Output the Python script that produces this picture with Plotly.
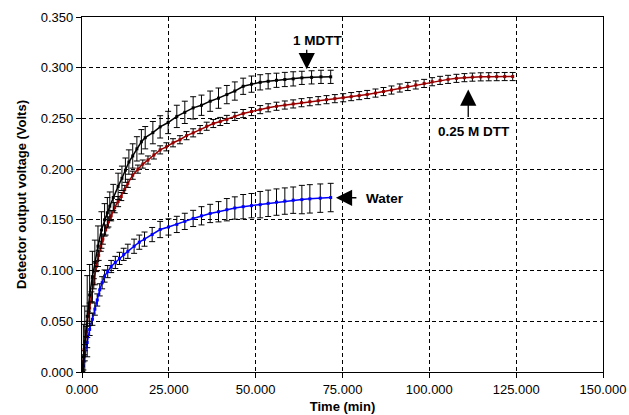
import plotly.graph_objects as go

# ---- data ----
t_mdtt = [0, 0.4, 0.8, 1.5, 2.2, 3.0, 3.7, 4.6, 5.6, 6.5,
          7.3, 8.0, 9.0, 10.4, 11.5, 12.5, 13.5, 14.6, 15.8, 17.1,
          18.2, 20.4, 22.5, 24.8, 27.3, 29.6, 32.0, 34.4, 36.9, 39.3,
          41.7, 44.0, 46.4, 48.8, 51.3, 53.6, 56.0, 58.4, 60.8, 63.3,
          66.1, 68.8, 71.6]
v_mdtt = [0, 0.015, 0.030, 0.055, 0.076, 0.094, 0.108, 0.124, 0.140, 0.150,
          0.157, 0.1635, 0.172, 0.183, 0.191, 0.199, 0.207, 0.213, 0.220, 0.227,
          0.231, 0.236, 0.2417, 0.246, 0.252, 0.256, 0.2604, 0.263, 0.267, 0.270,
          0.2735, 0.277, 0.2817, 0.2838, 0.2856, 0.2866, 0.2876, 0.2884, 0.289, 0.290,
          0.2905, 0.291, 0.291]
e_mdtt = [0, 0.032, 0.035, 0.040, 0.030, 0.025, 0.022, 0.020, 0.018, 0.016,
          0.015, 0.014, 0.013, 0.013, 0.012, 0.012, 0.012, 0.012, 0.012, 0.012,
          0.011, 0.011, 0.011, 0.011, 0.011, 0.011, 0.011, 0.010, 0.010, 0.010,
          0.009, 0.009, 0.008, 0.008, 0.0075, 0.0075, 0.007, 0.007, 0.007, 0.0065,
          0.0065, 0.0065, 0.0065]

t_dtt = [0, 0.6, 1.2, 1.7, 2.2, 2.7, 3.4, 4.1, 4.8, 5.4,
         6.0, 6.8, 7.6, 8.4, 9.4, 10.4, 11.3, 12.3, 13.2, 14.6,
         16.1, 17.5, 19.0, 20.7, 22.5, 24.3, 26.2, 28.2, 30.1, 32.0,
         34.0, 35.9, 37.8, 39.8, 41.7, 44.0, 46.4, 48.8, 51.3, 53.6,
         56.0, 58.4, 60.8, 63.2, 65.6, 68.0, 70.4, 72.8, 75.2, 77.5,
         79.8, 82.1, 84.5, 86.8, 89.1, 91.5, 93.8, 96.1, 98.5, 100.8,
         103.1, 105.4, 107.8, 110.1, 112.4, 114.8, 117.1, 119.4, 121.7, 124.0]
v_dtt = [0, 0.022, 0.040, 0.055, 0.063, 0.074, 0.087, 0.104, 0.115, 0.124,
         0.131, 0.140, 0.148, 0.154, 0.162, 0.168, 0.173, 0.180, 0.186, 0.194,
         0.200, 0.205, 0.209, 0.214, 0.219, 0.222, 0.226, 0.229, 0.233, 0.2358,
         0.239, 0.2423, 0.245, 0.247, 0.249, 0.252, 0.2548, 0.2568, 0.2587, 0.2605,
         0.262, 0.2632, 0.2643, 0.2655, 0.2665, 0.2675, 0.2685, 0.2695, 0.2704, 0.2715,
         0.2725, 0.2736, 0.275, 0.2765, 0.278, 0.280, 0.2815, 0.283, 0.2845, 0.2862,
         0.2875, 0.2885, 0.2895, 0.2902, 0.2907, 0.291, 0.2911, 0.2912, 0.2913, 0.2913]
e_dtt = [0, 0.005, 0.005, 0.005, 0.005, 0.005, 0.005, 0.005, 0.005, 0.005,
         0.005, 0.005, 0.005, 0.005, 0.005, 0.005, 0.004, 0.004, 0.004, 0.004,
         0.004, 0.004, 0.004, 0.004, 0.004, 0.004, 0.004, 0.004, 0.004, 0.004,
         0.004, 0.004, 0.004, 0.004, 0.004, 0.004, 0.004, 0.004, 0.004, 0.004,
         0.004, 0.004, 0.004, 0.004, 0.004, 0.004, 0.004, 0.004, 0.004, 0.004,
         0.004, 0.004, 0.004, 0.004, 0.004, 0.004, 0.004, 0.004, 0.004, 0.004,
         0.004, 0.004, 0.004, 0.004, 0.004, 0.004, 0.004, 0.004, 0.004, 0.004]

t_water = [0, 0.4, 0.8, 1.5, 2.2, 3.0, 3.7, 4.4, 5.1, 5.8,
           6.5, 7.4, 8.4, 9.6, 10.8, 12.0, 13.2, 15.0, 16.5, 18.0,
           20.2, 22.5, 24.9, 27.3, 29.6, 32.0, 34.4, 36.9, 39.3, 41.7,
           44.0, 46.4, 48.8, 51.3, 53.6, 56.0, 58.4, 60.8, 63.3, 65.6,
           68.6, 71.6]
v_water = [0, 0.006, 0.016, 0.029, 0.042, 0.052, 0.062, 0.071, 0.081, 0.088,
           0.0946, 0.099, 0.104, 0.108, 0.112, 0.116, 0.119, 0.124, 0.128, 0.131,
           0.1355, 0.1405, 0.143, 0.1455, 0.1485, 0.1514, 0.154, 0.1563, 0.158, 0.160,
           0.1617, 0.163, 0.164, 0.165, 0.1663, 0.1675, 0.1685, 0.1694, 0.170, 0.1707,
           0.1714, 0.172]
e_water = [0, 0.004, 0.005, 0.005, 0.006, 0.006, 0.006, 0.006, 0.006, 0.006,
           0.006, 0.006, 0.006, 0.006, 0.006, 0.006, 0.007, 0.007, 0.007, 0.007,
           0.007, 0.008, 0.008, 0.008, 0.008, 0.008, 0.009, 0.009, 0.010, 0.011,
           0.011, 0.012, 0.012, 0.013, 0.013, 0.013, 0.013, 0.013, 0.014, 0.014,
           0.014, 0.014]

x_ticks = [0, 25, 50, 75, 100, 125, 150]
y_ticks = [0, 0.05, 0.10, 0.15, 0.20, 0.25, 0.30, 0.35]

FONT = "Liberation Sans, Arial, sans-serif"

fig = go.Figure()

def add_series(t, v, e, color, name):
    fig.add_trace(go.Scatter(
        x=t, y=v, name=name, mode="lines+markers",
        line=dict(color=color, width=1.5),
        marker=dict(color=color, size=3, symbol="square"),
        error_y=dict(type="data", array=e, visible=True,
                     color="black", thickness=1, width=3),
        showlegend=False,
    ))

add_series(t_water, v_water, e_water, "#0000FF", "Water")
add_series(t_dtt, v_dtt, e_dtt, "#990000", "0.25 M DTT")
add_series(t_mdtt, v_mdtt, e_mdtt, "#000000", "1 MDTT")

L, R, T, B = 82, 26, 17, 43
W, H = 629, 415
pw, ph = W - L - R, H - T - B

ann_font = dict(family=FONT, size=13.5, color="black")
labels = [
    (318, 40, "<b>1 MDTT</b>"),
    (474, 131, "<b>0.25 M DTT</b>"),
    (385, 198, "<b>Water</b>"),
]
annotations = []
for px, py, txt in labels:
    annotations.append(dict(
        x=(px - L) / pw, y=1 - (py - T) / ph, xref="paper", yref="paper",
        xanchor="center", yanchor="middle",
        text=txt, showarrow=False, font=ann_font))

arrows = [
    dict(x=64.7, y=0.2985, ax=0, ay=-21),
    dict(x=111.2, y=0.2785, ax=0, ay=29),
    dict(x=73.1, y=0.1718, ax=22, ay=0),
]
for a in arrows:
    annotations.append(dict(
        x=a["x"], y=a["y"], xref="x", yref="y", ax=a["ax"], ay=a["ay"],
        axref="pixel", ayref="pixel", text="", showarrow=True,
        arrowhead=2, arrowsize=2.5, arrowwidth=1.3, arrowcolor="black",
        standoff=0,
    ))

axis_common = dict(
    showline=True, linecolor="black", linewidth=1.3, mirror=True,
    ticks="outside", ticklen=5, tickcolor="black", tickwidth=1,
    showgrid=True, gridcolor="black", gridwidth=1, griddash="4px,3px",
    zeroline=False, tickformat=".3f", automargin=False,
    tickfont=dict(family=FONT, size=13, color="black"),
)

fig.update_layout(
    width=W, height=H,
    margin=dict(l=L, r=R, t=T, b=B),
    paper_bgcolor="white", plot_bgcolor="white",
    xaxis=dict(range=[0, 150], tickvals=x_ticks,
               title=dict(text="<b>Time (min)</b>", standoff=6,
                          font=dict(family=FONT, size=13, color="black")),
               **axis_common),
    yaxis=dict(range=[0, 0.35], tickvals=y_ticks,
               title=dict(text="<b>Detector output voltage (Volts)</b>", standoff=11,
                          font=dict(family=FONT, size=13, color="black")),
               **axis_common),
    annotations=annotations,
)

fig.write_html("out.html", config={"displayModeBar": False},
               post_script="document.body.style.margin='0';document.body.style.overflow='hidden';")
